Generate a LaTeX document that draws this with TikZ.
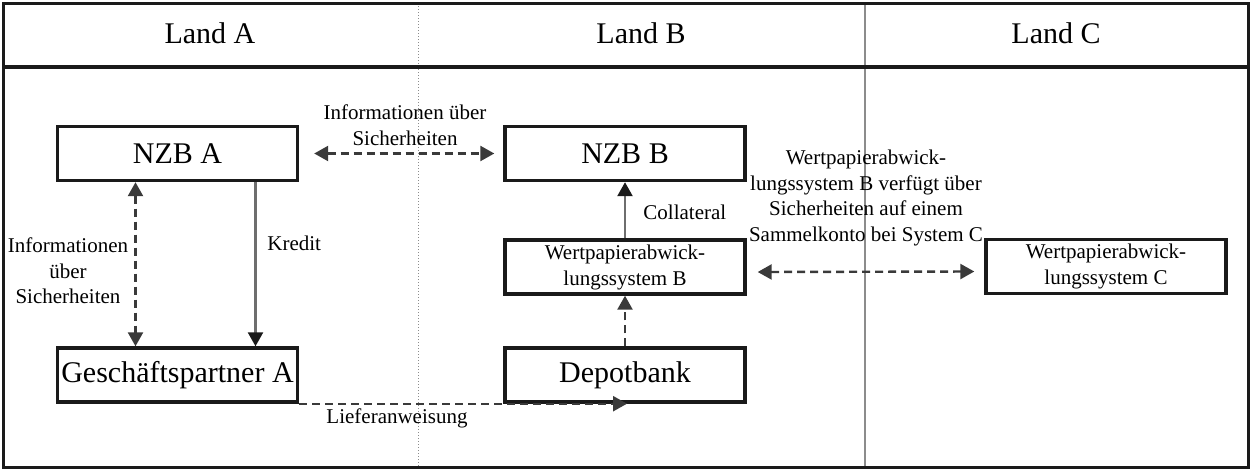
\documentclass[tikz,border=0pt]{standalone}
\usepackage{fontspec}
\setmainfont{Liberation Serif}
\usetikzlibrary{arrows.meta, calc}
\definecolor{lkframe}{HTML}{1A1A1A}
\definecolor{lkgrid}{HTML}{8C8C8C}
\definecolor{lkline}{HTML}{3A3A3A}
\definecolor{lkshaft}{HTML}{6E6E6E}

\begin{document}
\begin{tikzpicture}[
  x=0.5pt, y=-0.5pt,
  >={Triangle[length=7pt, width=7.5pt]},
  box/.style={draw=lkframe, line width=1.7pt, fill=white, minimum width=120pt,
    minimum height=27pt, inner sep=1pt, align=center},
  bigbox/.style={box, font=\fontsize{15}{18}\selectfont},
  smallbox/.style={box, font=\fontsize{10.5}{13}\selectfont},
  head/.style={font=\fontsize{15}{18}\selectfont},
  lbl/.style={font=\fontsize{10.5}{12.8}\selectfont, align=center, inner sep=1pt},
  info/.style={<->, draw=lkline, line width=1.2pt, dash pattern=on 4pt off 2.5pt},
  dflow/.style={->, draw=lkline, line width=1.2pt, dash pattern=on 4pt off 2.5pt},
  flow/.style={-{Triangle[length=7pt, width=7.5pt, color=lkframe]}, draw=lkshaft, line width=1.2pt},
]
\useasboundingbox (0,0) rectangle (1252,471);

% frame and three columns
\draw[lkgrid, line width=0.5pt, densely dotted] (418,3) -- (418,467);
\draw[lkgrid, line width=0.6pt] (865,3) -- (865,467);
\draw[lkframe, line width=1.5pt] (3,3) rectangle (1248,467);
\draw[lkframe, line width=1.8pt] (3,67) -- (1248,67);

\node[head] (hA) at (210,33) {Land A};
\node[head] (hB) at (641,33) {Land B};
\node[head] (hC) at (1056,33) {Land C};

% boxes
\node[bigbox] (nzbA) at (177.5,153.5) {NZB A};
\node[bigbox] (gpA) at (177.5,375) {Geschäftspartner A};
\node[bigbox] (nzbB) at (625,153.5) {NZB B};
\node[smallbox] (wpsB) at (625,267) {Wertpapierabwick-\\lungssystem B};
\node[bigbox] (depot) at (625,375) {Depotbank};
\node[smallbox] (wpsC) at (1106,266.5) {Wertpapierabwick-\\lungssystem C};

% Land A
\draw[info] ([xshift=-21pt]nzbA.south) -- ([xshift=-21pt]gpA.north);
\draw[flow] ([xshift=39pt]nzbA.south) -- ([xshift=39pt]gpA.north);
\node[lbl] (lInfoA) at (68,271) {Informationen\\über\\Sicherheiten};
\node[lbl, anchor=west] (lKredit) at (265,243) {Kredit};

% between the central banks
\draw[info] ([xshift=7.5pt]nzbA.east) -- ([xshift=-4.5pt]nzbB.west);
\node[lbl] (lInfoAB) at (405,125) {Informationen über\\Sicherheiten};

% Land B
\draw[flow] (wpsB) -- (nzbB);
\draw[dflow] (depot) -- (wpsB);
\node[lbl, anchor=west] (lColl) at (641,212) {Collateral};

% link B -- C
\draw[info] ([shift={(5.5pt,-2.5pt)}]wpsB.east) -- ([shift={(-5pt,-2.5pt)}]wpsC.west);
\node[lbl] (lWps) at (866,198) {Wertpapierabwick-\\lungssystem B verfügt über\\Sicherheiten auf einem\\Sammelkonto bei System C};

% delivery order
\draw[dflow] (gpA.south east) -- ([xshift=1pt]depot.south);
\node[lbl] (lLiefer) at (397,418) {Lieferanweisung};
\end{tikzpicture}
\end{document}
